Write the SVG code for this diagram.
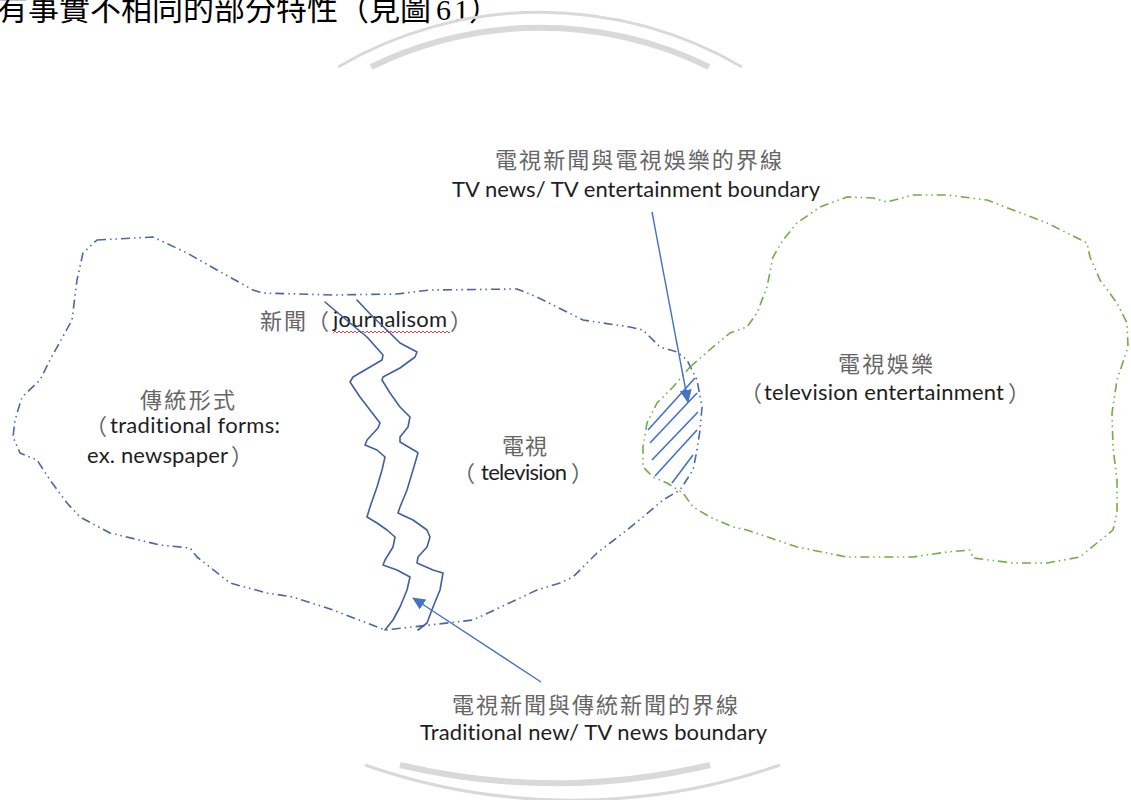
<svg xmlns="http://www.w3.org/2000/svg" width="1131" height="800" viewBox="0 0 1131 800">
<style>
.cj{font-family:"Noto Sans CJK TC","Noto Sans CJK SC",sans-serif;font-size:22px;fill:#666}
.lt{font-family:Lato,"Liberation Sans",sans-serif;font-size:22px;fill:#1e1e1e;font-variant-ligatures:none}
.top{font-family:"Noto Sans CJK TC",sans-serif;font-size:31px;fill:#000}
.topd{font-family:"Liberation Serif","Noto Sans CJK TC",serif;font-size:30px}
.blob{fill:none;stroke-width:1.6;stroke-dasharray:9 4 1.5 4 1.5 4;stroke-linejoin:round}
.zz{fill:none;stroke:#3f5f9f;stroke-width:1.6;stroke-linejoin:round;stroke-linecap:round}
.arc{fill:none;stroke:#d9d9d9}
.arw{stroke:#4472c4;stroke-width:1.4;fill:none}
.hatch{stroke:#4472c4;stroke-width:1.6}
</style>
<defs>
<marker id="ah" markerUnits="userSpaceOnUse" markerWidth="14" markerHeight="12" refX="12" refY="6" orient="auto">
<path d="M0,0 L13,6 L0,12 Z" fill="#4472c4"/>
</marker>
<pattern id="wave" patternUnits="userSpaceOnUse" x="333" y="330" width="4" height="4">
<path d="M0,3 L2,1 L4,3" fill="none" stroke="#e03030" stroke-width="0.9"/>
</pattern>
</defs>
<rect width="1131" height="800" fill="#fff"/>
<g id="background">
<text class="top" x="-3" y="20">有事實不相同的部分特性（見圖<tspan class="topd" dx="5">6</tspan><tspan class="topd" dx="3">1</tspan><tspan>）</tspan></text>
<path class="arc" stroke-width="3" d="M338,67 A400,400 0 0 1 742,67"/>
<path class="arc" stroke-width="6" d="M371,67 A384,384 0 0 1 709,67"/>
<path class="arc" stroke-width="6" d="M400,765 A676,676 0 0 0 710,765"/>
<path class="arc" stroke-width="3" d="M365,765 A630,630 0 0 0 780,765"/>
</g>
<g id="news">
<path class="blob" stroke="#4a68a8" d="M97,240 L153,237 L187,253 L217,270 L253,290 L263,293 L333,295 L397,294 L430,290 L517,289 L537,297 L563,310 L583,320 L630,327 L643,330 L660,347 L677,352 L687,360 L697,380 L702,407 L700,430 L697,450 L693,470 L680,490 L663,500 L643,517 L627,530 L597,553 L573,577 L560,583 L537,590 L473,620 L430,625 L385,630 L367,623 L333,610 L293,597 L267,593 L230,583 L197,557 L190,548 L160,545 L110,533 L80,517 L67,503 L50,480 L37,460 L20,453 L13,437 L15,420 L22,397 L40,380 L50,360 L72,320 L77,280 L83,253 Z"/>
<text class="cj" x="260" y="329" textLength="46">新聞</text>
<text class="cj" x="307" y="329">（</text>
<text class="lt" x="333" y="327" textLength="114">journalisom</text>
<rect x="333" y="330" width="117" height="4" fill="url(#wave)"/>
<text class="cj" x="450" y="329">）</text>
</g>
<g id="traditional">
<text class="cj" x="140" y="408" textLength="95">傳統形式</text>
<text class="cj" x="85" y="434">（</text>
<text class="lt" x="110" y="433" textLength="170">traditional forms:</text>
<text class="lt" x="87" y="463" textLength="141">ex. newspaper</text>
<text class="cj" x="231" y="464">）</text>
</g>
<g id="television">
<text class="cj" x="502" y="454" textLength="45">電視</text>
<text class="cj" x="453" y="481">（</text>
<text class="lt" x="481" y="480" textLength="86">television</text>
<text class="cj" x="571" y="481">）</text>
</g>
<g id="entertainment">
<path class="blob" stroke="#70ad47" d="M690,367 L713,347 L730,333 L747,327 L757,313 L767,287 L773,257 L783,240 L797,223 L820,207 L847,197 L873,198 L887,202 L913,195 L947,195 L987,200 L1013,210 L1047,223 L1087,243 L1090,257 L1100,280 L1117,303 L1127,323 L1128,347 L1117,380 L1112,413 L1113,447 L1117,480 L1117,513 L1113,530 L1097,543 L1080,557 L1047,563 L1013,563 L973,558 L970,550 L947,552 L913,557 L847,557 L797,547 L747,530 L733,527 L710,517 L693,507 L683,493 L667,483 L653,477 L643,467 L643,447 L647,423 L657,403 L673,387 Z"/>
<text class="cj" x="838" y="372" textLength="95">電視娛樂</text>
<text class="cj" x="740" y="401">（</text>
<text class="lt" x="764" y="400" textLength="240">television entertainment</text>
<text class="cj" x="1008" y="401">）</text>
</g>
<g id="overlap">
<line class="hatch" x1="695" y1="378" x2="648" y2="430"/>
<line class="hatch" x1="697" y1="393" x2="650" y2="443"/>
<line class="hatch" x1="698" y1="412" x2="652" y2="460"/>
<line class="hatch" x1="697" y1="430" x2="655" y2="476"/>
<line class="hatch" x1="693" y1="455" x2="672" y2="483"/>
</g>
<g id="journalism-boundary">
<path class="zz" d="M325,302 L350,323 L367,337 L383,355 L382,360 L353,377 L350,382 L360,397 L370,410 L380,423 L378,428 L367,440 L365,445 L377,450 L385,457 L382,470 L377,487 L370,507 L367,517 L377,523 L387,530 L395,537 L393,547 L385,560 L383,565 L397,570 L410,577 L407,590 L400,607 L393,620 L385,630"/>
<path class="zz" d="M357,300 L373,317 L390,333 L400,343 L417,352 L415,357 L400,368 L383,377 L382,380 L390,393 L400,407 L410,417 L408,427 L400,437 L400,442 L417,452 L418,453 L413,470 L407,490 L400,507 L398,513 L413,520 L427,530 L430,537 L427,547 L418,557 L417,563 L433,570 L443,573 L440,590 L433,607 L427,623 L418,630"/>
</g>
<g id="label-tv-ent">
<text class="cj" x="495" y="168" textLength="287">電視新聞與電視娛樂的界線</text>
<text class="lt" x="452" y="197" textLength="368">TV news/ TV entertainment boundary</text>
</g>
<g id="label-trad">
<text class="cj" x="452" y="713" textLength="286">電視新聞與傳統新聞的界線</text>
<text class="lt" x="420" y="740" textLength="347">Traditional new/ TV news boundary</text>
</g>
<g id="connectors">
<line class="arw" x1="652" y1="212" x2="688" y2="402" marker-end="url(#ah)"/>
<line class="arw" x1="541" y1="682" x2="413" y2="598" marker-end="url(#ah)"/>
</g>
</svg>
